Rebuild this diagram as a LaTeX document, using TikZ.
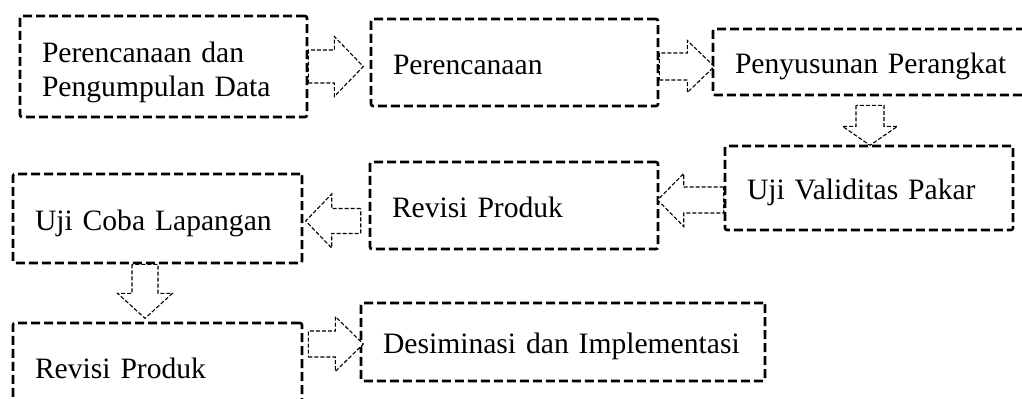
\documentclass[tikz,border=0pt]{standalone}
\usepackage{fontspec}
\setmainfont{Liberation Serif}
\usetikzlibrary{calc}
\tikzset{
  box/.style={draw, line width=1.3pt, dash pattern=on 4.5pt off 2pt,
    rounded corners=1pt, inner xsep=11pt, inner ysep=0pt, align=left,
    text height=11.8pt, text depth=0pt,
    font=\fontsize{14.8}{17}\selectfont},
  twoline/.style={text height=10.5pt, text depth=14.2pt},
  arrowline/.style={draw, line width=0.55pt, dash pattern=on 2pt off 1pt, fill=white},
  pics/barrow/.style n args={4}{code={
    \path[arrowline] (0,-#2) -- (#1-#4,-#2) -- (#1-#4,-#3) -- (#1,0)
      -- (#1-#4,#3) -- (#1-#4,#2) -- (0,#2) -- cycle;}}
}
\begin{document}
\begin{tikzpicture}[x=1pt,y=1pt]
\useasboundingbox (0,0) rectangle (511,-199);
\node[box, twoline, text width=121.5pt, minimum height=50.5pt] (b1) at (81.75,-33.25) {Perencanaan dan\\Pengumpulan Data};
\node[box, text width=121.5pt, minimum height=43.5pt] (b2) at (257.25,-31.25) {Perencanaan};
\node[box, text width=148pt, minimum height=33pt] (b3) at (441.5,-31) {Penyusunan Perangkat};
\node[box, text width=122pt, minimum height=42pt] (b4) at (434.5,-94) {Uji Validitas Pakar};
\node[box, text width=122pt, minimum height=43.5pt] (b5) at (257,-102.75) {Revisi Produk};
\node[box, text width=122.5pt, minimum height=44.5pt] (b6) at (78.75,-109.25) {Uji Coba Lapangan};
\node[box, text width=122.5pt, minimum height=43.5pt] (b7) at (78.75,-183.25) {Revisi Produk};
\node[box, text width=180pt, minimum height=39pt] (b8) at (281.5,-171) {Desiminasi dan Implementasi};

\pic at (b1.east) {barrow={27.5}{8.25}{15}{14.5}};
\pic at ($(b2.east)+(0,-2)$) {barrow={27.5}{6.75}{13}{13.5}};
\pic[rotate=-90] at ($(b3.south)+(-6.5,-4.5)$) {barrow={20}{7}{13.75}{9.5}};
\pic[rotate=180] at ($(b4.west)+(0,-6)$) {barrow={33}{6.5}{13.25}{13}};
\pic[rotate=180] at ($(b5.west)+(-4,-7.75)$) {barrow={27.5}{6.25}{13.5}{13}};
\pic[rotate=-90] at ($(b6.south)+(-6.25,0)$) {barrow={27}{6.5}{13.75}{12.5}};
\pic at ($(b7.east)+(2.5,11.25)$) {barrow={27.5}{6.5}{13.75}{14}};
\end{tikzpicture}
\end{document}
